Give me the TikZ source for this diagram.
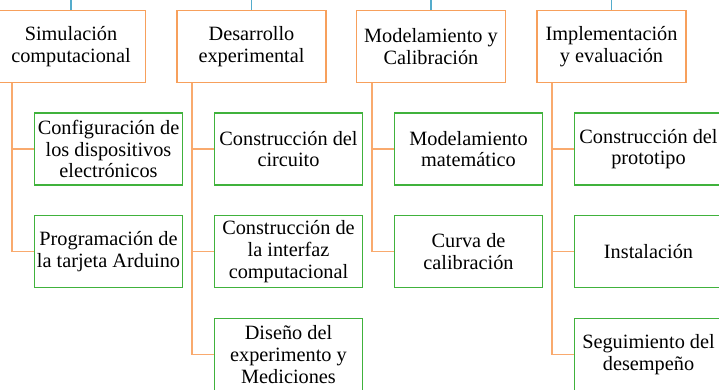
\documentclass[tikz,border=0pt]{standalone}
\usepackage{fontspec}
\setmainfont{Liberation Serif}
\definecolor{orbox}{RGB}{247,160,92}
\definecolor{orline}{RGB}{249,170,110}
\definecolor{grbox}{RGB}{64,178,60}
\definecolor{blline}{RGB}{84,172,204}
\tikzset{
  topbox/.style={draw=orbox, line width=1.8pt, fill=white, minimum width=149pt, minimum height=72pt, inner sep=0pt, align=center, font=\fontsize{20.3}{21.8}\selectfont},
  subbox/.style={draw=grbox, line width=1.8pt, fill=white, minimum width=148pt, minimum height=72pt, inner sep=0pt, align=center, font=\fontsize{20.3}{21.8}\selectfont},
  oline/.style={draw=orline, line width=1.8pt},
  bline/.style={draw=blline, line width=1.8pt}
}
\begin{document}
\begin{tikzpicture}[x=1pt,y=-1pt]
\useasboundingbox (0,0) rectangle (719,389);
% top boxes
\node[topbox] (t1) at (71,46.5) {Simulación\\computacional};
\node[topbox] (t2) at (251.5,46.5) {Desarrollo\\experimental};
\node[topbox] (t3) at (431,46.5) {Modelamiento y\\Calibración};
\node[topbox] (t4) at (611.5,46.5) {Implementación\\y evaluación};
% blue links upward
\coordinate (b1) at (71,0);
\coordinate (b2) at (251.5,0);
\coordinate (b3) at (431,0);
\coordinate (b4) at (611.5,0);
\draw[bline] (b1) -- (t1.north);
\draw[bline] (b2) -- (t2.north);
\draw[bline] (b3) -- (t3.north);
\draw[bline] (b4) -- (t4.north);
% sub boxes
\node[subbox] (g11) at (108.5,149) {Configuración de\\los dispositivos\\electrónicos};
\node[subbox] (g12) at (108.5,251.5) {Programación de\\la tarjeta Arduino};
\node[subbox] (g21) at (288.5,149) {Construcción del\\circuito};
\node[subbox] (g22) at (288.5,251.5) {Construcción de\\la interfaz\\computacional};
\node[subbox] (g23) at (288.5,354.5) {Diseño del\\experimento y\\Mediciones};
\node[subbox] (g31) at (468.5,149) {Modelamiento\\matemático};
\node[subbox] (g32) at (468.5,251.5) {Curva de\\calibración};
\node[subbox] (g41) at (648.5,149) {Construcción del\\prototipo};
\node[subbox] (g42) at (648.5,251.5) {Instalación};
\node[subbox] (g43) at (648.5,354.5) {Seguimiento del\\desempeño};
% orange connectors
\coordinate (l1) at (12,83);
\coordinate (l2) at (192,83);
\coordinate (l3) at (372,83);
\coordinate (l4) at (552,83);
\draw[oline] (l1) |- (g11.west);
\draw[oline] (l1) |- (g12.west);
\draw[oline] (l2) |- (g21.west);
\draw[oline] (l2) |- (g22.west);
\draw[oline] (l2) |- (g23.west);
\draw[oline] (l3) |- (g31.west);
\draw[oline] (l3) |- (g32.west);
\draw[oline] (l4) |- (g41.west);
\draw[oline] (l4) |- (g42.west);
\draw[oline] (l4) |- (g43.west);
\end{tikzpicture}
\end{document}
